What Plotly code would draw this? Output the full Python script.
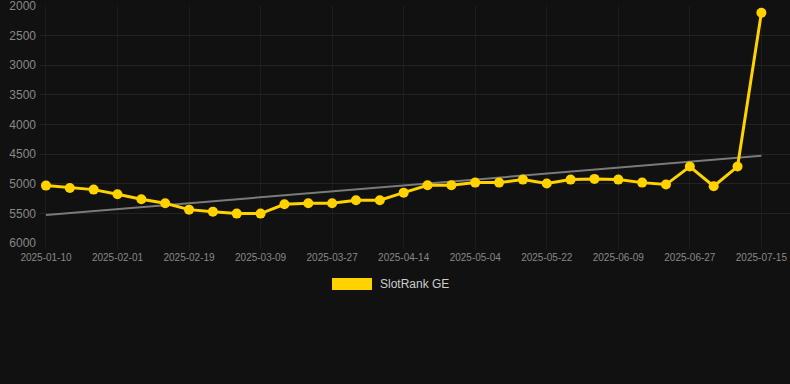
import numpy as np
import plotly.graph_objects as go

dates = ["2025-01-10", "2025-01-17", "2025-01-25", "2025-02-01", "2025-02-07", "2025-02-13",
         "2025-02-19", "2025-02-25", "2025-03-03", "2025-03-09", "2025-03-15", "2025-03-21",
         "2025-03-27", "2025-04-02", "2025-04-08", "2025-04-14", "2025-04-21", "2025-04-27",
         "2025-05-04", "2025-05-10", "2025-05-16", "2025-05-22", "2025-05-28", "2025-06-03",
         "2025-06-09", "2025-06-15", "2025-06-21", "2025-06-27", "2025-07-03", "2025-07-09",
         "2025-07-15"]
rank = [5031, 5071, 5099, 5178, 5262, 5330, 5437, 5471, 5504, 5504, 5347, 5330, 5330, 5279, 5279,
        5150, 5026, 5026, 4981, 4981, 4930, 4997, 4930, 4918, 4930, 4981, 5014, 4710, 5042, 4710,
        2113]
tick_labels = dates[::3]
y_ticks = [2000, 2500, 3000, 3500, 4000, 4500, 5000, 5500, 6000]
series_name = "SlotRank GE"

idx = np.arange(len(rank))
slope, intercept = np.polyfit(idx, rank, 1)
trend = [intercept + slope * idx[0], intercept + slope * idx[-1]]

fig = go.Figure()
fig.add_trace(go.Scatter(
    x=[dates[0], dates[-1]], y=trend, mode="lines",
    line=dict(color="#7a7a7a", width=2), showlegend=False, hoverinfo="skip"))
fig.add_trace(go.Scatter(
    x=dates, y=rank, mode="lines+markers", name=series_name,
    line=dict(color="#FFD200", width=3),
    marker=dict(color="#FFD200", size=10),
    showlegend=False))

W, H = 790, 384
L, R, T, B = 40, 0, 6, 141
pw, ph = W - L - R, H - T - B

def px(x):
    return (x - L) / pw

def py(y):
    return (H - B - y) / ph

fig.add_shape(type="rect", xref="paper", yref="paper",
              x0=px(332), x1=px(372), y0=py(290), y1=py(278),
              fillcolor="#FFD200", line=dict(width=0))
fig.add_annotation(xref="paper", yref="paper", x=px(378), y=py(284),
                   text=series_name, showarrow=False, xanchor="left", yanchor="middle",
                   font=dict(size=12, color="#cccccc", family="Liberation Sans, Arial"))

fig.update_layout(
    width=W, height=H,
    margin=dict(l=L, r=R, t=T, b=B),
    paper_bgcolor="#111111", plot_bgcolor="#111111",
    font=dict(family="Liberation Sans, Arial", color="#888888"),
    xaxis=dict(type="category", categoryorder="array", categoryarray=dates,
               range=[-0.25, 31.2], tickmode="array", tickvals=tick_labels, ticktext=tick_labels,
               tickfont=dict(size=10, color="#888888"), showgrid=True, gridcolor="#1c1c1c",
               zeroline=False, ticks="outside", ticklen=5, tickcolor="#1c1c1c", showline=False,
               ticklabeloverflow="allow"),
    yaxis=dict(range=[6000, 2000], tickvals=y_ticks, tickfont=dict(size=12, color="#888888"),
               showgrid=True, gridcolor="#222222", zeroline=False, ticks="", ticklabelstandoff=3,
               ticklabeloverflow="allow"),
)

fig.write_html("out.html", config={"displayModeBar": False},
               post_script="document.body.style.margin='0';document.body.style.background='#111111';")
